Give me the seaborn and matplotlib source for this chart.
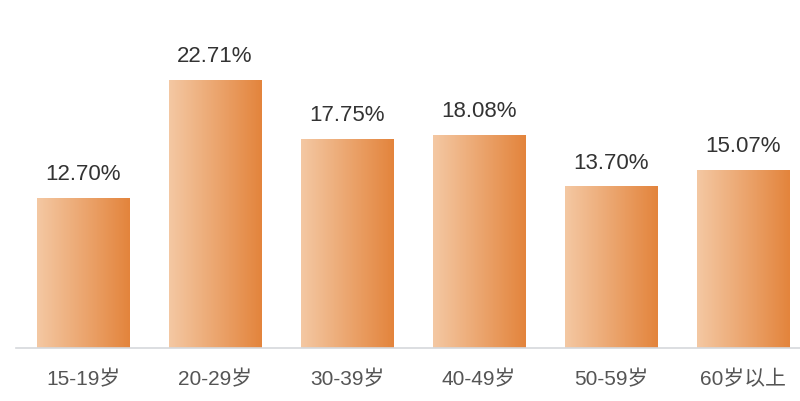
import numpy as np
import pandas as pd
import seaborn as sns
import matplotlib.pyplot as plt
from matplotlib.colors import LinearSegmentedColormap

ageGroups = ['15-19岁', '20-29岁', '30-39岁', '40-49岁', '50-59岁', '60岁以上']
shares = [12.70, 22.71, 17.75, 18.08, 13.70, 15.07]

df = pd.DataFrame({'age': ageGroups, 'share': shares})

sns.set_style('white')
plt.rcParams['font.family'] = ['Liberation Sans', 'Noto Sans CJK SC', 'DejaVu Sans']

fig = plt.figure(figsize=(8, 4.02), dpi=100)
ax = fig.add_axes([16 / 800, 53 / 402, 784 / 800, 349 / 402])

sns.barplot(x='age', y='share', data=df, ax=ax, width=0.7, color='#EBA46C', order=ageGroups)

cmap = LinearSegmentedColormap.from_list('peach', ['#F4C8A3', '#E3843C'])
grad = np.linspace(0, 1, 256).reshape(1, -1)
for p, v in zip(ax.patches, shares):
    x0, w, h = p.get_x(), p.get_width(), p.get_height()
    p.set_facecolor('none')
    p.set_edgecolor('none')
    im = ax.imshow(grad, cmap=cmap, aspect='auto', extent=[x0, x0 + w, 0, h], zorder=2)
    im.set_clip_path(p)
    ax.annotate(f'{v:.2f}%', (x0 + w / 2, h), ha='center', va='baseline', xytext=(0, 13.5),
                textcoords='offset points', fontsize=16, color='#333333')

ax.set_xlim(-0.508, 5.432)
ax.set_ylim(0, 29.58)
ax.set_xlabel('')
ax.set_ylabel('')
ax.set_yticks([])
ax.tick_params(axis='x', length=0, pad=15, labelsize=15, labelcolor='#555555')
for s in ['top', 'right', 'left']:
    ax.spines[s].set_visible(False)
ax.spines['bottom'].set_color('#D5D8DC')
ax.spines['bottom'].set_linewidth(1.2)

plt.savefig('out.png', dpi=100)
